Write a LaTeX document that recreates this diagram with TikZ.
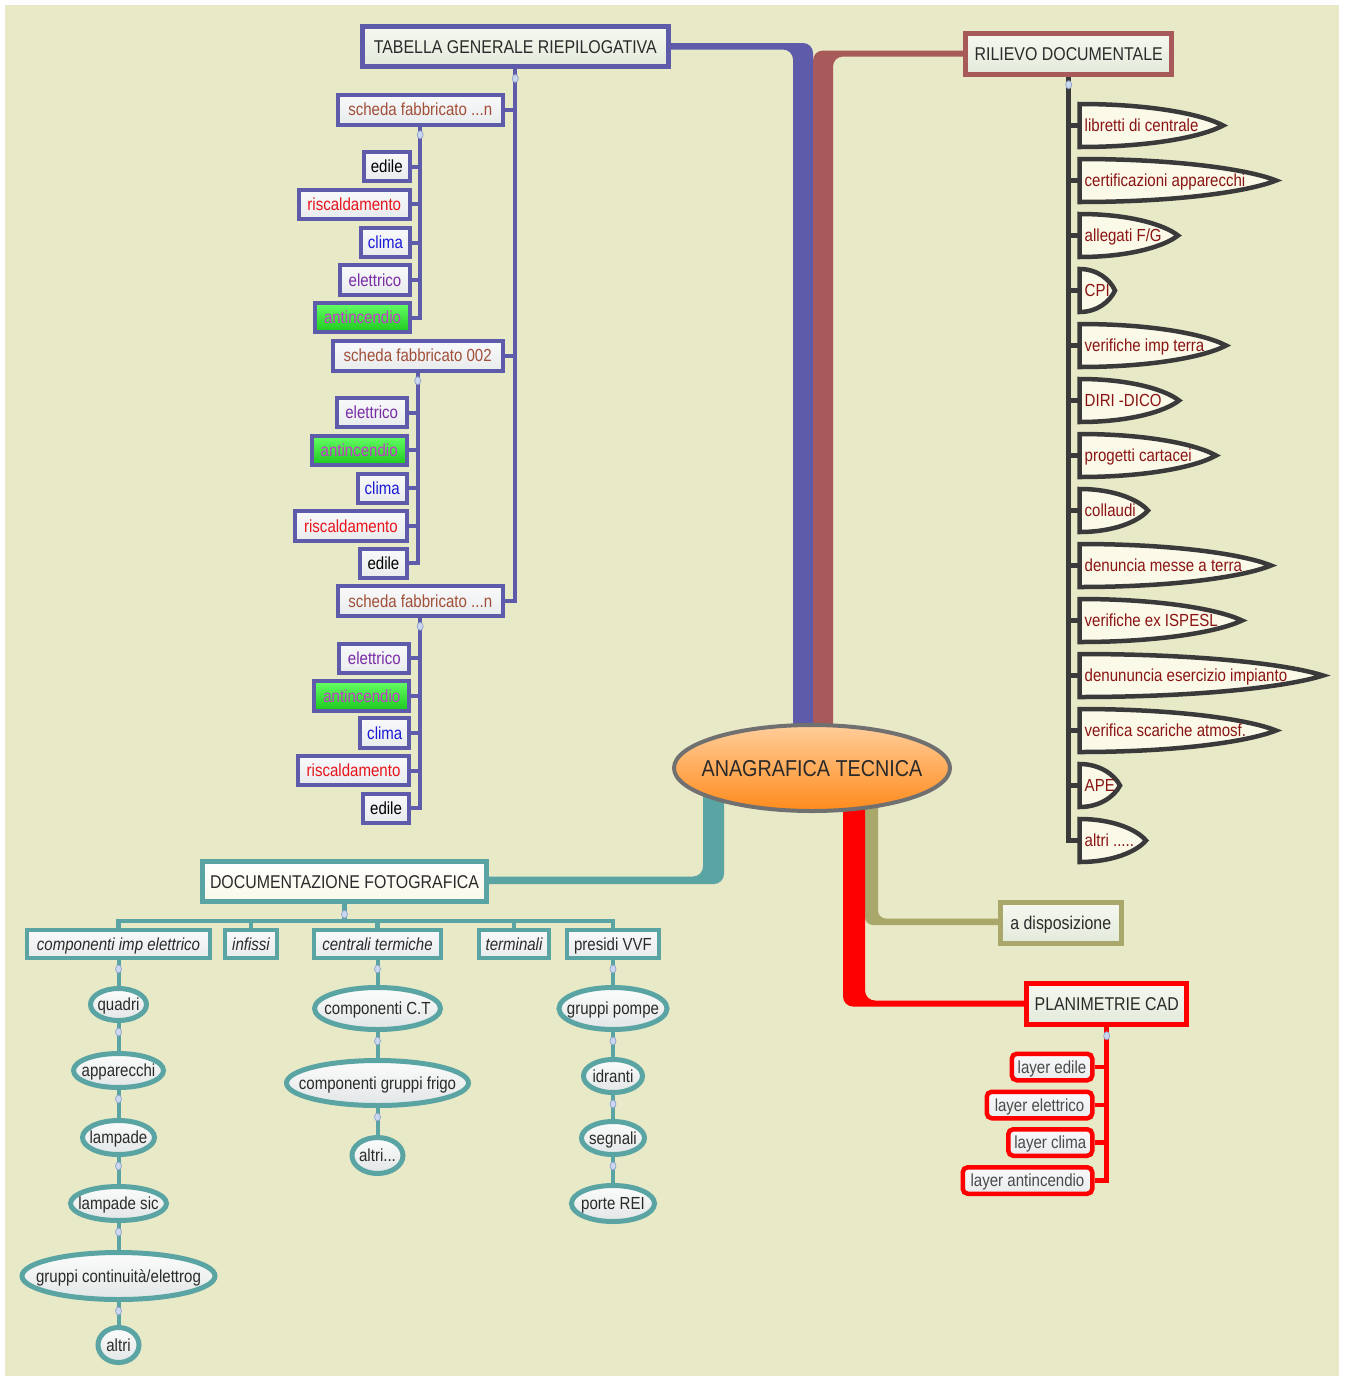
\documentclass[tikz,border=0pt]{standalone}
\usepackage{fontspec}
\setmainfont{Liberation Sans}[FakeStretch=0.86]
\usetikzlibrary{shapes.geometric}

\definecolor{bgc}{HTML}{E8E9C6}
\definecolor{cblue}{HTML}{5D5BAA}
\definecolor{cbrown}{HTML}{A85A5A}
\definecolor{cteal}{HTML}{5AA4A4}
\definecolor{colive}{HTML}{A9A86A}
\definecolor{cred}{HTML}{FF0000}
\definecolor{cdark}{HTML}{3A3A3A}
\definecolor{cgray}{HTML}{707070}
\definecolor{tdark}{HTML}{2A2A2A}
\definecolor{tsienna}{HTML}{A14F38}
\definecolor{tred}{HTML}{E8141C}
\definecolor{tblue}{HTML}{1A1AD6}
\definecolor{tpurple}{HTML}{7A2CA6}
\definecolor{tmag}{HTML}{C43CC8}
\definecolor{tshield}{HTML}{8A1414}
\definecolor{fillA}{HTML}{F6F8F0}
\definecolor{fillB}{HTML}{E2EADA}
\definecolor{boxA}{HTML}{F9F9FB}
\definecolor{boxB}{HTML}{E8EBEC}
\definecolor{greenA}{HTML}{66FF66}
\definecolor{greenB}{HTML}{1CC81C}
\definecolor{ellA}{HTML}{FCFCFC}
\definecolor{ellB}{HTML}{E2E6E6}
\definecolor{oraA}{HTML}{FFCE9A}
\definecolor{oraB}{HTML}{FF8A1C}
\definecolor{ivory}{HTML}{FBF9E8}
\definecolor{knobF}{HTML}{CAD7EE}
\definecolor{knobD}{HTML}{8EA2CC}

\newcommand\fnmain{\fontsize{18.5}{22}\selectfont}
\newcommand\fnsub{\fontsize{17.5}{21}\selectfont}
\newcommand\fncore{\fontsize{23}{27}\selectfont}

\pgfdeclarelayer{back}
\pgfdeclarelayer{links}
\pgfsetlayers{back,links,main}

\tikzset{
 topic/.style={rectangle, line width=5pt, inner sep=0pt, minimum height=40.5pt, text height=13.2pt, text depth=0pt, font=\fnmain, text=tdark, top color=fillA, bottom color=fillB},
 sub/.style={rectangle, draw=cblue, line width=4pt, inner sep=0pt, minimum height=29.5pt, text height=12.5pt, text depth=0pt, font=\fnsub, top color=boxA, bottom color=boxB, anchor=east},
 scheda/.style={sub, minimum height=30pt, minimum width=165pt, text=tsienna},
 edileN/.style={sub, minimum width=46.5pt, text=black},
 riscN/.style={sub, minimum width=111.5pt, text=tred},
 climaN/.style={sub, minimum width=49pt, text=tblue},
 eletN/.style={sub, minimum width=70pt, text=tpurple},
 antiN/.style={sub, minimum width=95pt, text=tmag, top color=greenA, bottom color=greenB},
 photo/.style={rectangle, draw=cteal, line width=4pt, inner sep=0pt, minimum height=28pt, text height=12.5pt, text depth=0pt, font=\fnsub\itshape, text=tdark, top color=boxA, bottom color=boxB},
 bubble/.style={ellipse, draw=cteal, line width=5pt, inner sep=0pt, text height=12.5pt, text depth=0pt, font=\fnsub, text=tdark, top color=ellA, bottom color=ellB},
 layerN/.style={rectangle, rounded corners=5pt, draw=cred, line width=4.5pt, inner sep=0pt, minimum height=26.5pt, text height=12.5pt, text depth=0pt, font=\fnsub, text=tdark!85, top color=boxA, bottom color=boxB, anchor=east},
 shieldline/.style={draw=cdark, line width=4.5pt, line join=miter, fill=ivory},
 shieldtxt/.style={anchor=west, inner xsep=5pt, inner ysep=0pt, text height=12.5pt, text depth=0pt, font=\fnsub, text=tshield},
 knob/.style={ellipse, draw=knobD, fill=knobF, line width=0.7pt, minimum width=6pt, minimum height=8pt, inner sep=0pt},
 blueln/.style={draw=cblue, line width=4pt},
 darkln/.style={draw=cdark, line width=5.5pt},
 tealln/.style={draw=cteal, line width=4.5pt},
 redln/.style={draw=cred, line width=4.5pt},
}

% document shield: name, centre y, tip x, label
\newcommand\docshield[4]{%
 \path[shieldline] (1079.5,{#2-21.5}) .. controls ({1079.5+0.5*(#3-1079.5)},{#2-21.5}) and ({1079.5+0.86*(#3-1079.5)},{#2-11}) .. (#3,#2) .. controls ({1079.5+0.86*(#3-1079.5)},{#2+11}) and ({1079.5+0.5*(#3-1079.5)},{#2+21.5}) .. (1079.5,{#2+21.5}) -- cycle;
 \node[shieldtxt] (#1) at (1079.5,#2) {#4};}

\begin{document}
\begin{tikzpicture}[x=1pt,y=-1pt]
\useasboundingbox (0,0) rectangle (1345,1376);
\begin{pgfonlayer}{back}
 \fill[white] (0,0) rectangle (1345,1376);
 \fill[bgc] (5,5) rectangle (1339,1376);
\end{pgfonlayer}

% central topic
\node[ellipse, draw=cgray, line width=4pt, minimum width=276pt, minimum height=86pt, inner sep=0pt, top color=oraA, bottom color=oraB, font=\fncore, text=tdark, text height=16.5pt, text depth=0pt] (ana) at (812,768) {\makebox[0pt]{ANAGRAFICA TECNICA}};

% main topics
\node[topic, draw=cblue, minimum width=305.5pt] (tab) at (515.3,46.7) {TABELLA GENERALE RIEPILOGATIVA};
\node[topic, draw=cbrown, minimum width=206pt, minimum height=41pt] (ril) at (1068.7,53.7) {RILIEVO DOCUMENTALE};
\node[topic, draw=cteal, minimum width=284pt, top color=white, bottom color=ivory] (doc) at (344.5,881.5) {DOCUMENTAZIONE FOTOGRAFICA};
\node[topic, draw=colive, minimum width=121pt] (dis) at (1060.8,923.2) {a disposizione};
\node[topic, draw=cred, minimum width=160pt, minimum height=41pt] (plan) at (1106.7,1003.7) {PLANIMETRIE CAD};

% building sheets
\node[scheda] (sn1) at (504.7,109.7) {scheda fabbricato ...n};
\node[scheda, minimum width=170pt] (sn2) at (504.7,355.7) {scheda fabbricato 002};
\node[scheda] (sn3) at (504.7,601.3) {scheda fabbricato ...n};

\node[edileN] (a1) at (412,166.7) {edile};
\node[riscN]  (a2) at (412,204.3) {riscaldamento};
\node[climaN] (a3) at (412,242.5) {clima};
\node[eletN]  (a4) at (412,280) {elettrico};
\node[antiN]  (a5) at (412,317.7) {antincendio};

\node[eletN]  (b1) at (408.7,412.7) {elettrico};
\node[antiN]  (b2) at (408.7,450.3) {antincendio};
\node[climaN] (b3) at (408.7,488.3) {clima};
\node[riscN]  (b4) at (408.7,526) {riscaldamento};
\node[edileN] (b5) at (408.7,563.3) {edile};

\node[eletN]  (c1) at (411.3,658.3) {elettrico};
\node[antiN]  (c2) at (411.3,695.8) {antincendio};
\node[climaN] (c3) at (411.3,733) {clima};
\node[riscN]  (c4) at (411.3,770.5) {riscaldamento};
\node[edileN] (c5) at (411.3,808.3) {edile};

% documents
\docshield{s1}{125.5}{1223}{libretti di centrale}
\docshield{s2}{180.5}{1276}{certificazioni apparecchi}
\docshield{s3}{235.5}{1178}{allegati F/G}
\docshield{s4}{290.5}{1115}{CPI}
\docshield{s5}{345.5}{1226}{verifiche imp terra}
\docshield{s6}{400.5}{1179}{DIRI -DICO}
\docshield{s7}{455.5}{1216}{progetti cartacei}
\docshield{s8}{510.5}{1148}{collaudi}
\docshield{s9}{565.5}{1271}{denuncia messe a terra}
\docshield{s10}{620.5}{1242}{verifiche ex ISPESL}
\docshield{s11}{675.5}{1323}{denununcia esercizio impianto}
\docshield{s12}{730.5}{1276}{verifica scariche atmosf.}
\docshield{s13}{785.5}{1120}{APE}
\docshield{s14}{840.5}{1146}{altri .....}

% photo categories
\node[photo, minimum width=183pt] (ci) at (118.5,944) {componenti imp elettrico};
\node[photo, minimum width=52pt] (inf) at (251,944) {infissi};
\node[photo, minimum width=127pt] (ct) at (377.5,944) {centrali termiche};
\node[photo, minimum width=70pt] (ter) at (514,944) {terminali};
\node[photo, minimum width=92pt, font=\fnsub] (vvf) at (613,944) {presidi VVF};

\node[bubble, minimum width=56pt, minimum height=32pt] (qd) at (118.5,1004.5) {\makebox[0pt]{quadri}};
\node[bubble, minimum width=90pt, minimum height=34pt] (ap) at (118.5,1070.5) {\makebox[0pt]{apparecchi}};
\node[bubble, minimum width=72pt, minimum height=34pt] (lp) at (118.5,1137.5) {\makebox[0pt]{lampade}};
\node[bubble, minimum width=96pt, minimum height=34pt] (ls) at (118.5,1203.5) {\makebox[0pt]{lampade sic}};
\node[bubble, minimum width=193pt, minimum height=47pt] (gc) at (118.5,1276) {\makebox[0pt]{gruppi continuità/elettrog}};
\node[bubble, minimum width=41pt, minimum height=35pt] (al1) at (118.5,1345) {\makebox[0pt]{altri}};

\node[bubble, minimum width=126pt, minimum height=42pt] (cct) at (377.5,1008.5) {\makebox[0pt]{componenti C.T}};
\node[bubble, minimum width=182pt, minimum height=45pt] (cgf) at (377.5,1083) {\makebox[0pt]{componenti gruppi frigo}};
\node[bubble, minimum width=51pt, minimum height=36pt] (al2) at (377.5,1155.5) {\makebox[0pt]{altri...}};

\node[bubble, minimum width=108pt, minimum height=42pt] (gp) at (613,1008.5) {\makebox[0pt]{gruppi pompe}};
\node[bubble, minimum width=59pt, minimum height=33pt] (id) at (613,1076) {\makebox[0pt]{idranti}};
\node[bubble, minimum width=63pt, minimum height=33pt] (sg) at (613,1138) {\makebox[0pt]{segnali}};
\node[bubble, minimum width=83pt, minimum height=36pt] (pr) at (613,1203.5) {\makebox[0pt]{porte REI}};

% CAD layers
\node[layerN, minimum width=80.5pt] (l1) at (1094.5,1067) {layer edile};
\node[layerN, minimum width=105.5pt] (l2) at (1094.5,1105) {layer elettrico};
\node[layerN, minimum width=84pt] (l3) at (1094.5,1142.5) {layer clima};
\node[layerN, minimum width=129.5pt] (l4) at (1094.5,1180.5) {layer antincendio};

\begin{pgfonlayer}{links}
 % branches from the central topic (they start under the topic boxes)
 \fill[cblue, rounded corners=10pt] (tab.center |- 0,43) -- (813,43) -- (813,745) -- (793,745) -- (793,49.5) -- (tab.center |- 0,49.5) -- cycle;
 \fill[cbrown, rounded corners=10pt] (ril.center |- 0,50.5) -- (813,50.5) -- (813,745) -- (833,745) -- (833,56.5) -- (ril.center |- 0,56.5) -- cycle;
 \fill[cteal, rounded corners=10pt] (doc.center |- 0,876.5) -- (703,876.5) -- (703,785) -- (724,785) -- (724,884) -- (doc.center |- 0,884) -- cycle;
 \fill[colive, rounded corners=8pt] (865,785) -- (878,785) -- (878,918.5) -- (dis.center |- 0,918.5) -- (dis.center |- 0,925) -- (865,925) -- cycle;
 \fill[cred, rounded corners=10pt] (843,785) -- (865,785) -- (865,1000.5) -- (plan.center |- 0,1000.5) -- (plan.center |- 0,1006.5) -- (843,1006.5) -- cycle;

 % summary table tree
 \draw[blueln] (tab.south) |- (sn3.east);
 \draw[blueln] (tab.south |- sn1.east) -- (sn1.east);
 \draw[blueln] (tab.south |- sn2.east) -- (sn2.east);
 \draw[blueln] (sn1.south) |- (a5.east);
 \foreach \n in {a1,a2,a3,a4} \draw[blueln] (sn1.south |- \n.east) -- (\n.east);
 \draw[blueln] (sn2.south) |- (b5.east);
 \foreach \n in {b1,b2,b3,b4} \draw[blueln] (sn2.south |- \n.east) -- (\n.east);
 \draw[blueln] (sn3.south) |- (c5.east);
 \foreach \n in {c1,c2,c3,c4} \draw[blueln] (sn3.south |- \n.east) -- (\n.east);

 % documents tree
 \draw[darkln] (ril.south) |- (s14.west);
 \foreach \i in {1,...,13} \draw[darkln, line width=5pt] (ril.south |- s\i.west) -- (s\i.west);

 % photo tree
 \coordinate (tbar) at (doc.south |- 0,921);
 \draw[tealln] (doc.south) -- (tbar);
 \foreach \n in {ci,inf,ct,ter,vvf} \draw[tealln] (\n.north) |- (tbar);
 \draw[tealln, line width=4pt] (ci.south) -- (qd.north) (qd.south) -- (ap.north) (ap.south) -- (lp.north) (lp.south) -- (ls.north) (ls.south) -- (gc.north) (gc.south) -- (al1.north);
 \draw[tealln, line width=4pt] (ct.south) -- (cct.north) (cct.south) -- (cgf.north) (cgf.south) -- (al2.north);
 \draw[tealln, line width=4pt] (vvf.south) -- (gp.north) (gp.south) -- (id.north) (id.south) -- (sg.north) (sg.south) -- (pr.north);

 % CAD tree
 \draw[redln] (plan.south) |- (l4.east);
 \foreach \n in {l1,l2,l3} \draw[redln] (plan.south |- \n.east) -- (\n.east);
\end{pgfonlayer}

% collapse knobs
\node[knob] (k1) at ([yshift=-9pt]tab.south) {};
\node[knob] (k2) at ([yshift=-8pt]sn1.south) {};
\node[knob] (k3) at ([yshift=-8pt]sn2.south) {};
\node[knob] (k4) at ([yshift=-8pt]sn3.south) {};
\node[knob] (k5) at ([yshift=-8pt]ril.south) {};
\node[knob] (k6) at ([yshift=-10pt]doc.south) {};
\node[knob] (k7) at ([yshift=-9pt]plan.south) {};
\foreach \n in {ci,ct,vvf,qd,ap,lp,ls,gc,cct,cgf,gp,id,sg}
  \node[knob] (k\n) at ([yshift=-9pt]\n.south) {};
\end{tikzpicture}
\end{document}
